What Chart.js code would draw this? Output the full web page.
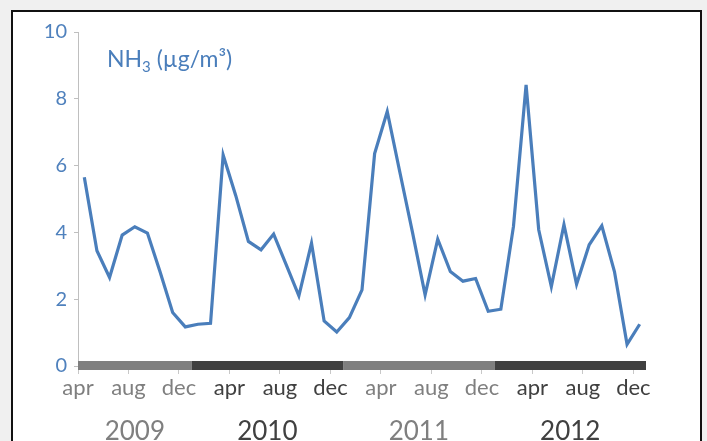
<!DOCTYPE html>
<html>
<head>
<meta charset="utf-8">
<script src="https://cdn.jsdelivr.net/npm/chart.js@4.4.1/dist/chart.umd.min.js"></script>
<style>
  body { margin: 0; background: #f0f0f0; }
  #frame { position: absolute; left: 11px; top: 10px; width: 687px; height: 440px;
           background: #fff; border: 2px solid #111; border-bottom: none; }
  #wrap { position: absolute; left: 0; top: 0; width: 707px; height: 441px; }
</style>
</head>
<body>
<div id="frame"></div>
<div id="wrap"><canvas id="myChart" width="707" height="441"></canvas></div>
<script>
'use strict';

/*          DATA          */
// monthly NH3 concentration, apr 2009 .. dec 2012 (45 months)
const nh3Values = [
  5.65, 3.45, 2.65, 3.92, 4.17, 3.98, 2.82, 1.60, 1.17,
  1.25, 1.28, 6.32, 5.10, 3.73, 3.48, 3.95, 3.03, 2.10, 3.68, 1.35, 1.02,
  1.45, 2.28, 6.36, 7.62, 5.80, 4.00, 2.13, 3.80, 2.83, 2.54, 2.62, 1.64,
  1.70, 4.18, 8.42, 4.08, 2.38, 4.23, 2.45, 3.63, 4.20, 2.83, 0.65, 1.25
];
// month ticks, counted in months from apr 2009
const monthTickPos = [0, 4, 8, 12, 16, 20, 24, 28, 32, 36, 40, 44];
const monthTickLabels = ['apr', 'aug', 'dec', 'apr', 'aug', 'dec', 'apr', 'aug', 'dec', 'apr', 'aug', 'dec'];
// years and where each one starts (in months from apr 2009)
const yearLabels = ['2009', '2010', '2011', '2012'];
const yearStarts = [0, 9, 21, 33, 45];
const yTicks = [0, 2, 4, 6, 8, 10];

/*          STYLE          */
const blue = '#4a7ebb';
const yearColors = ['#7f7f7f', '#404040', '#7f7f7f', '#404040'];

Chart.defaults.font.family = 'Lato, "DejaVu Sans", sans-serif';

// which year a month index belongs to
function yearOf(month) {
  for (let i = 0; i < yearLabels.length; i++) {
    if (month >= yearStarts[i] && month < yearStarts[i + 1]) {
      return i;
    }
  }
  return yearLabels.length - 1;
}

// points sit in the middle of their month
const points = nh3Values.map((v, i) => ({ x: i + 0.5, y: v }));

// coloured year band along the x axis + the title text
const yearBand = {
  id: 'yearBand',
  afterDraw(chart) {
    const ctx = chart.ctx;
    const xs = chart.scales.x;
    const bottom = chart.chartArea.bottom;
    for (let i = 0; i < yearLabels.length; i++) {
      const x0 = xs.getPixelForValue(yearStarts[i]);
      const x1 = xs.getPixelForValue(yearStarts[i + 1]);
      ctx.fillStyle = yearColors[i];
      ctx.fillRect(x0, bottom - 5, x1 - x0, 9);
    }
    // NH3 (µg/m³)
    ctx.save();
    ctx.fillStyle = blue;
    ctx.textBaseline = 'alphabetic';
    let x = chart.chartArea.left + 29;
    const y = chart.chartArea.top + 35;
    ctx.font = '23px Lato';
    ctx.fillText('NH', x, y);
    x += ctx.measureText('NH').width;
    ctx.font = '15px Lato';
    ctx.fillText('3', x, y + 5);
    x += ctx.measureText('3').width;
    ctx.font = '23px Lato';
    ctx.fillText(' (µg/m³)', x, y);
    ctx.restore();
  }
};

const config = {
  type: 'line',
  data: {
    datasets: [{
      data: points,
      borderColor: blue,
      borderWidth: 3.2,
      pointRadius: 0,
      tension: 0,
      fill: false
    }]
  },
  options: {
    responsive: false,
    animation: false,
    layout: { padding: { left: 0, right: 61, top: 32, bottom: 0 } },
    plugins: {
      legend: { display: false },
      tooltip: { enabled: false }
    },
    scales: {
      x: {
        type: 'linear',
        position: 'bottom',
        min: 0,
        max: 45,
        afterBuildTicks: (s) => { s.ticks = monthTickPos.map(v => ({ value: v })); },
        afterFit: (s) => { s.height = 42; },
        border: { display: false },
        grid: { drawOnChartArea: false, drawTicks: true, tickLength: 8, color: '#c8c8c8' },
        ticks: {
          autoSkip: false,
          maxRotation: 0,
          padding: 1,
          font: { size: 22 },
          color: (c) => yearColors[yearOf(c.tick.value)],
          callback: (v) => monthTickLabels[monthTickPos.indexOf(v)]
        }
      },
      year: {
        type: 'linear',
        position: 'bottom',
        axis: 'x',
        min: 0,
        max: 45,
        afterBuildTicks: (s) => {
          s.ticks = yearLabels.map((y, i) => ({ value: (yearStarts[i] + yearStarts[i + 1]) / 2 }));
        },
        afterFit: (s) => { s.height = 33; },
        border: { display: false },
        grid: { display: false },
        ticks: {
          autoSkip: false,
          maxRotation: 0,
          padding: 0,
          font: { size: 26 },
          color: (c) => yearColors[c.index],
          callback: (v, i) => yearLabels[i]
        }
      },
      y: {
        min: 0,
        max: 10,
        afterBuildTicks: (s) => { s.ticks = yTicks.map(v => ({ value: v })); },
        afterFit: (s) => { s.width = 78; },
        border: { display: true, color: '#bfbfbf', width: 1 },
        grid: { drawOnChartArea: false, drawTicks: true, tickLength: 4, color: '#bfbfbf' },
        ticks: { padding: 7, font: { size: 20 }, color: '#4f81bd' }
      }
    }
  },
  plugins: [yearBand]
};

const myChart = new Chart(document.getElementById('myChart'), config);
</script>
</body>
</html>
